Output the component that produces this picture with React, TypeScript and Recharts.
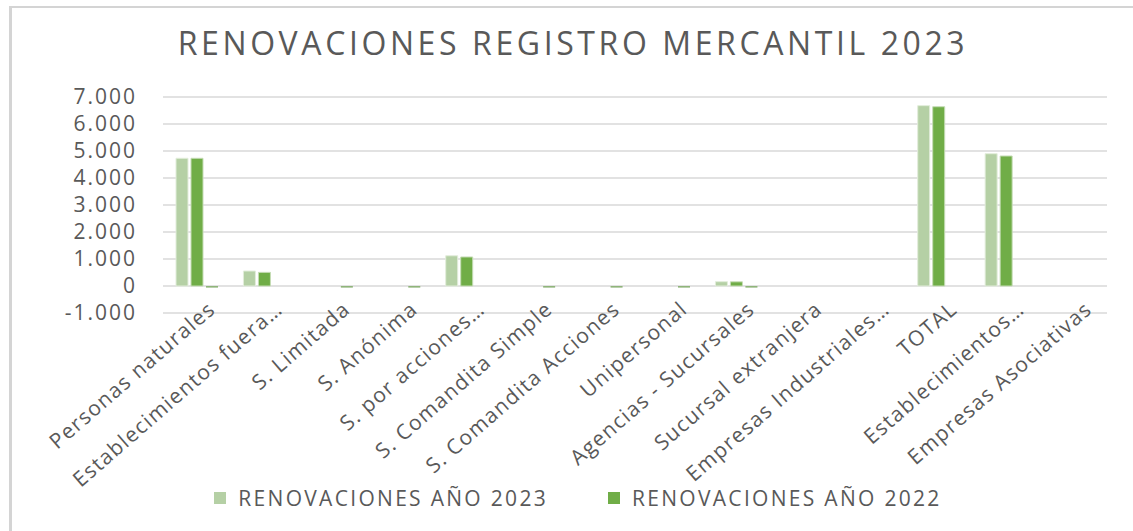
import React from 'react';
import { BarChart, Bar, XAxis, YAxis, CartesianGrid } from 'recharts';

const categories = [
  'Personas naturales',
  'Establecimientos fuera…',
  'S. Limitada',
  'S. Anónima',
  'S. por acciones…',
  'S. Comandita Simple',
  'S. Comandita Acciones',
  'Unipersonal',
  'Agencias - Sucursales',
  'Sucursal extranjera',
  'Empresas Industriales…',
  'TOTAL',
  'Establecimientos…',
  'Empresas Asociativas',
];

const renov2023 = [4730, 555, 0, 0, 1120, 0, 0, 0, 160, 0, 0, 6680, 4900, 0];
const renov2022 = [4730, 505, 0, 0, 1075, 0, 0, 0, 155, 0, 0, 6640, 4815, 0];
const variacion = [-60, 0, -60, -60, 0, -60, -60, -60, -60, 0, 0, 0, 0, 0];

const yTicks = [-1000, 0, 1000, 2000, 3000, 4000, 5000, 6000, 7000];

const data = categories.map((name, i) => ({
  name,
  r2023: renov2023[i],
  r2022: renov2022[i],
  variacion: variacion[i],
}));

const TEXT = '#595959';
const FONT = '"Open Sans", sans-serif';

const fmt = (v: number) => (v < 0 ? '-' : '') + Math.abs(v).toLocaleString('de-DE');

function XTick({ x, y, payload }: any) {
  return (
    <g transform={`translate(${x + 18},${y - 12})`}>
      <text
        textAnchor="end"
        transform="rotate(-41)"
        fill={TEXT}
        fontSize={21}
        letterSpacing={1.3}
        fontFamily={FONT}
        dy={3}
      >
        {payload.value}
      </text>
    </g>
  );
}

export default function App() {
  return (
    <div style={{ position: 'absolute', left: 0, top: 0, width: 1133, height: 531, background: '#fff' }}>
      <div
        style={{
          position: 'absolute',
          left: 9,
          top: 6,
          width: 1140,
          height: 540,
          borderTop: '2px solid #d4d4d4',
          borderLeft: '3px solid #d4d4d4',
        }}
      />
      <div
        style={{
          position: 'absolute',
          left: 0,
          top: 21,
          width: 1146,
          textAlign: 'center',
          fontFamily: FONT,
          fontSize: 32,
          letterSpacing: 3.6,
          color: TEXT,
        }}
      >
        RENOVACIONES REGISTRO MERCANTIL 2023
      </div>
      <div style={{ position: 'absolute', left: 0, top: 0 }}>
        <BarChart
          width={1133}
          height={531}
          data={data}
          margin={{ top: 97, right: 26, bottom: 0, left: 0 }}
          barCategoryGap={13}
          barGap={3}
        >
          <CartesianGrid vertical={false} stroke="#d9d9d9" strokeWidth={1.5} />
          <XAxis
            dataKey="name"
            axisLine={false}
            tickLine={false}
            interval={0}
            height={218}
            tick={<XTick />}
          />
          <YAxis
            width={163}
            domain={[-1000, 7000]}
            ticks={yTicks}
            interval={0}
            axisLine={false}
            tickLine={false}
            tickMargin={20}
            tickFormatter={fmt}
            tick={{ fill: TEXT, fontSize: 21, fontFamily: FONT, letterSpacing: 2 }}
          />
          <Bar dataKey="r2023" name="RENOVACIONES AÑO 2023" fill="#b5d0a5" stroke="#e2eddb" strokeWidth={1} isAnimationActive={false} />
          <Bar dataKey="r2022" name="RENOVACIONES AÑO 2022" fill="#70ad47" stroke="#c5dcb5" strokeWidth={1} isAnimationActive={false} />
          <Bar dataKey="variacion" name="VARIACIÓN" fill="#8fb47a" isAnimationActive={false} />
        </BarChart>
      </div>
      <div
        style={{
          position: 'absolute',
          left: 0,
          top: 484,
          width: 1156,
          display: 'flex',
          justifyContent: 'center',
          gap: 60,
          fontFamily: FONT,
          fontSize: 21,
          letterSpacing: 2.3,
          color: TEXT,
        }}
      >
        {[
          { label: 'RENOVACIONES AÑO 2023', color: '#b5d0a5' },
          { label: 'RENOVACIONES AÑO 2022', color: '#70ad47' },
        ].map((it) => (
          <div key={it.label} style={{ display: 'flex', alignItems: 'center' }}>
            <span style={{ display: 'inline-block', width: 12, height: 12, background: it.color, marginRight: 12 }} />
            {it.label}
          </div>
        ))}
      </div>
    </div>
  );
}
